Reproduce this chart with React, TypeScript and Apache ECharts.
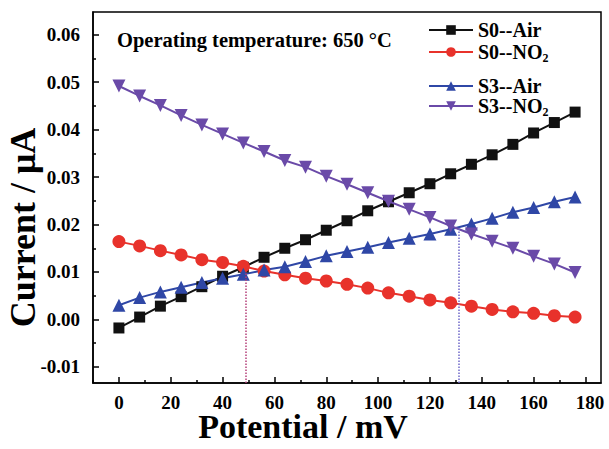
import React, { useEffect, useRef } from "react";
import * as echarts from "echarts";

const potentials = [0, 8, 16, 24, 32, 40, 48, 56, 64, 72, 80, 88, 96, 104, 112, 120, 128, 136, 144, 152, 160, 168, 176];
const s0Air = [-0.0018, 0.0005, 0.0028, 0.0048, 0.0069, 0.0091, 0.011, 0.0131, 0.015, 0.0168, 0.0188, 0.0208, 0.0229, 0.0248, 0.0267, 0.0286, 0.0307, 0.0327, 0.0347, 0.0369, 0.0393, 0.0415, 0.0437];
const s0NO2 = [0.0164, 0.0155, 0.0145, 0.0136, 0.0126, 0.012, 0.0112, 0.0102, 0.0094, 0.0087, 0.0081, 0.0074, 0.0066, 0.0056, 0.0049, 0.0041, 0.0035, 0.0028, 0.0021, 0.0016, 0.0013, 0.0008, 0.0005];
const s3Air = [0.003, 0.0046, 0.0058, 0.0068, 0.0078, 0.0087, 0.0095, 0.0104, 0.0111, 0.0122, 0.0134, 0.0143, 0.0152, 0.0162, 0.0171, 0.018, 0.019, 0.0201, 0.0213, 0.0226, 0.0236, 0.0248, 0.0258];
const s3NO2 = [0.0492, 0.0471, 0.0451, 0.043, 0.041, 0.0391, 0.0372, 0.0354, 0.0335, 0.0321, 0.0302, 0.0285, 0.0267, 0.0249, 0.0232, 0.0215, 0.0197, 0.018, 0.0165, 0.015, 0.0133, 0.0117, 0.0099];

const seriesNames = ["S0--Air", "S0--NO2", "S3--Air", "S3--NO2"];
const xMajorTicks = [0, 20, 40, 60, 80, 100, 120, 140, 160, 180];
const xMinorTicks = [-10, 10, 30, 50, 70, 90, 110, 130, 150, 170];
const yMajorTicks = [-0.01, 0, 0.01, 0.02, 0.03, 0.04, 0.05, 0.06];
const yMinorTicks = [-0.005, 0.005, 0.015, 0.025, 0.035, 0.045, 0.055];
const crossX = [49, 131];
const crossY = [0.0097, 0.0193];
const titleText = "Operating temperature: 650 °C";

const FONT = "'Liberation Serif', 'Times New Roman', serif";
const X_MIN = -10;
const X_MAX = 186;
const Y_MIN = -0.0134;
const Y_MAX = 0.0648;

export default function App() {
  const ref = useRef<HTMLDivElement>(null);
  useEffect(() => {
    if (!ref.current) return;
    const chart = echarts.init(ref.current, null, { renderer: "svg" });
    const pts = (vals: number[]) => potentials.map((x, i) => [x, vals[i]]);
    const colors = ["#111111", "#e8322b", "#2f47a6", "#6a4aa8"];
    const symbols = ["rect", "circle", "triangle", "path://M0,0 L10,0 L5,9 Z"];
    const sizes = [11, 13, 13, 13];
    const datas = [s0Air, s0NO2, s3Air, s3NO2];
    const legendTops = [20, 42, 76, 96];

    const series: any[] = datas.map((d, i) => ({
      name: seriesNames[i],
      type: "line",
      data: pts(d),
      symbol: symbols[i],
      symbolSize: sizes[i],
      showAllSymbol: true,
      lineStyle: { color: colors[i], width: 2 },
      itemStyle: { color: colors[i] },
      z: i === 3 ? 3 : 2,
    }));
    series[1].markLine = {
      silent: true,
      symbol: "none",
      label: { show: false },
      lineStyle: { type: "dotted", color: "#b5407a", width: 1.5 },
      data: [[{ coord: [crossX[0], Y_MIN] }, { coord: [crossX[0], crossY[0]] }]],
    };
    series[3].markLine = {
      silent: true,
      symbol: "none",
      label: { show: false },
      lineStyle: { type: "dotted", color: "#6f68c9", width: 1.5 },
      data: [[{ coord: [crossX[1], Y_MIN] }, { coord: [crossX[1], crossY[1]] }]],
    };

    const fmt = (name: string) => name.replace("NO2", "NO{sub|2}");
    const tickFont = { fontFamily: FONT, fontWeight: "bold", fontSize: 19, color: "#000" };

    const option: any = {
      animation: false,
      backgroundColor: "#ffffff",
      textStyle: { fontFamily: FONT },
      grid: {
        left: 93,
        right: 8,
        top: 12,
        bottom: 66,
        containLabel: false,
        outerBoundsMode: "none",
        show: true,
        borderColor: "#000",
        borderWidth: 1.5,
      },
      title: {
        text: titleText,
        left: 117,
        top: 29,
        padding: 0,
        textStyle: { fontFamily: FONT, fontWeight: "bold", fontSize: 20.5, color: "#000" },
      },
      legend: seriesNames.map((n, i) => ({
        data: [n],
        left: 428,
        top: legendTops[i],
        padding: 0,
        itemWidth: 44,
        itemHeight: 12,
        formatter: fmt,
        textStyle: {
          fontFamily: FONT,
          fontWeight: "bold",
          fontSize: 20,
          color: "#000",
          rich: {
            sub: { fontFamily: FONT, fontWeight: "bold", fontSize: 12, color: "#000", padding: [12, 0, 0, 0] },
          },
        },
      })),
      xAxis: [
        {
          type: "value",
          min: X_MIN,
          max: X_MAX,
          name: "Potential / mV",
          nameLocation: "middle",
          nameGap: 29,
          nameMoveOverlap: false,
          nameTextStyle: { fontFamily: FONT, fontWeight: "bold", fontSize: 34, lineHeight: 28, color: "#000", padding: [0, 88, 0, 0] },
          axisLine: { show: true, onZero: false, lineStyle: { color: "#000", width: 1.5 } },
          axisTick: { show: true, inside: true, length: 6, customValues: xMajorTicks, lineStyle: { color: "#000", width: 1.5 } },
          axisLabel: {
            customValues: xMajorTicks,
            alignMinLabel: "center",
            alignMaxLabel: "center",
            formatter: (v: number) => (v === 180 ? "{r|180}" : String(v)),
            rich: { r: { ...tickFont, lineHeight: 16, padding: [0, 0, 0, 9] } },
            ...tickFont,
            lineHeight: 16,
            margin: 11.5,
          },
          splitLine: { show: false },
        },
        {
          type: "value",
          min: X_MIN,
          max: X_MAX,
          position: "bottom",
          axisLine: { show: false, onZero: false },
          axisTick: { show: true, inside: true, length: 3, customValues: xMinorTicks, lineStyle: { color: "#000", width: 1.5 } },
          axisLabel: { show: false },
          splitLine: { show: false },
        },
      ],
      yAxis: [
        {
          type: "value",
          min: Y_MIN,
          max: Y_MAX,
          name: "Current / μA",
          nameLocation: "middle",
          nameGap: 52,
          nameMoveOverlap: false,
          nameTextStyle: { fontFamily: FONT, fontWeight: "bold", fontSize: 36, color: "#000", padding: [0, 60, 0, 0] },
          axisLine: { show: true, onZero: false, lineStyle: { color: "#000", width: 1.5 } },
          axisTick: { show: true, inside: true, length: 6, customValues: yMajorTicks, lineStyle: { color: "#000", width: 1.5 } },
          axisLabel: {
            customValues: yMajorTicks,
            formatter: (v: number) => v.toFixed(2),
            ...tickFont,
            margin: 13,
          },
          splitLine: { show: false },
        },
        {
          type: "value",
          min: Y_MIN,
          max: Y_MAX,
          position: "left",
          axisLine: { show: false, onZero: false },
          axisTick: { show: true, inside: true, length: 3, customValues: yMinorTicks, lineStyle: { color: "#000", width: 1.5 } },
          axisLabel: { show: false },
          splitLine: { show: false },
        },
      ],
      series,
    };
    chart.setOption(option);
    return () => chart.dispose();
  }, []);
  return <div ref={ref} style={{ width: 609, height: 449, position: "absolute", left: 0, top: 0 }} />;
}
